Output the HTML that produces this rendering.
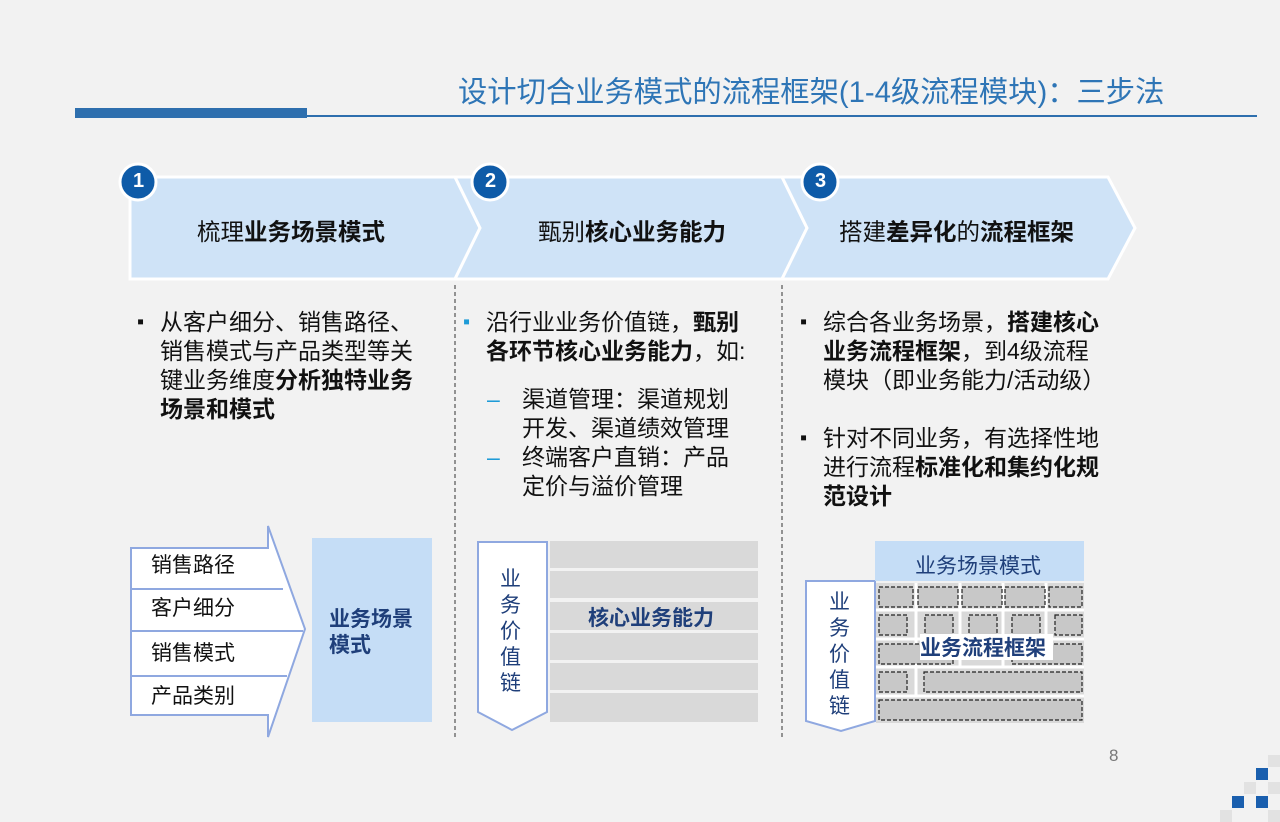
<!DOCTYPE html>
<html><head><meta charset="utf-8"><style>
body{margin:0;width:1280px;height:822px;background:#f2f2f2;position:relative;overflow:hidden;font-family:"Liberation Sans","Noto Sans CJK SC",sans-serif;color:#111}
.a{position:absolute;white-space:nowrap}
.t{font-size:23px;line-height:29px}
.t div{padding-left:23px;position:relative}
.t i{position:absolute;left:0;font-style:normal;font-size:20px}
b{font-weight:bold}
</style></head><body>
<svg width="1280" height="822" style="position:absolute;left:0;top:0">
<rect x="75" y="108" width="232" height="10" fill="#2e6fae"/>
<rect x="307" y="115" width="950" height="2" fill="#2e6fae"/>
<g fill="#cfe3f7" stroke="#fff" stroke-width="3">
<polygon points="130,177 455,177 480,228 455,279 130,279"/>
<polygon points="455,177 782,177 807,228 782,279 455,279 480,228"/>
<polygon points="782,177 1108,177 1135,228 1108,279 782,279 807,228"/>
</g>
<g fill="#0e5ba8" stroke="#fff" stroke-width="3">
<circle cx="138" cy="182" r="18"/><circle cx="490" cy="182" r="18"/><circle cx="820" cy="182" r="18"/>
</g>
<g stroke="#333" stroke-dasharray="4,3" stroke-width="1"><line x1="455" y1="285" x2="455" y2="740"/><line x1="782" y1="285" x2="782" y2="740"/></g>
<polygon points="131,548 268,548 268,526 305,629 268,737 268,715 131,715" fill="#fff" stroke="#8fa8e0" stroke-width="2"/>
<g stroke="#8fa8e0" stroke-width="2"><line x1="131" y1="589" x2="283" y2="589"/><line x1="131" y1="631" x2="303" y2="631"/><line x1="131" y1="676" x2="287" y2="676"/></g>
<rect x="312" y="538" width="120" height="184" fill="#c5ddf6"/>
<polygon points="478,542 547,542 547,712 512,730 478,712" fill="#fff" stroke="#8fa8e0" stroke-width="2"/>
<g fill="#d9d9d9"><rect x="550" y="541" width="208" height="27"/><rect x="550" y="571" width="208" height="27"/><rect x="550" y="602" width="208" height="28"/><rect x="550" y="633" width="208" height="27"/><rect x="550" y="663" width="208" height="27"/><rect x="550" y="693" width="208" height="29"/></g>
<polygon points="806,581 875,581 875,721 841,731 806,721" fill="#fff" stroke="#8fa8e0" stroke-width="2"/>
<rect x="875" y="541" width="209" height="40" fill="#c5ddf6"/>
<rect x="876" y="583" width="208" height="140" fill="#d9d9d9"/>
<g stroke="#fff" stroke-width="3"><line x1="876" y1="610" x2="1084" y2="610"/><line x1="876" y1="639" x2="1084" y2="639"/><line x1="876" y1="667" x2="1084" y2="667"/><line x1="876" y1="696" x2="1084" y2="696"/>
<line x1="916" y1="583" x2="916" y2="696"/><line x1="960" y1="583" x2="960" y2="667"/><line x1="1003" y1="583" x2="1003" y2="667"/><line x1="1046" y1="583" x2="1046" y2="639"/></g>
<g fill="#c8c8c8" stroke="#222" stroke-dasharray="4,2" stroke-width="1.2">
<rect x="879" y="587" width="34" height="20"/><rect x="918" y="587" width="40" height="20"/><rect x="962" y="587" width="40" height="20"/><rect x="1005" y="587" width="40" height="20"/><rect x="1049" y="587" width="33" height="20"/>
<rect x="879" y="615" width="28" height="20"/><rect x="925" y="615" width="28" height="20"/><rect x="969" y="615" width="28" height="20"/><rect x="1012" y="615" width="28" height="20"/><rect x="1055" y="615" width="27" height="20"/>
<rect x="879" y="644" width="74" height="20"/><rect x="1012" y="644" width="70" height="20"/>
<rect x="879" y="672" width="28" height="20"/><rect x="924" y="672" width="158" height="20"/>
<rect x="879" y="700" width="203" height="20"/></g>
<rect x="920" y="634" width="133" height="26" fill="#fff"/>
<g fill="#1a5fae"><rect x="1256" y="768" width="12" height="12"/><rect x="1232" y="796" width="12" height="12"/><rect x="1256" y="796" width="12" height="12"/></g>
<g fill="#e2e2e2"><rect x="1268" y="755" width="12" height="12"/><rect x="1244" y="782" width="12" height="12"/><rect x="1268" y="782" width="12" height="12"/><rect x="1220" y="810" width="12" height="12"/><rect x="1268" y="810" width="12" height="12"/></g>
</svg>
<div class="a" style="left:458px;top:69px;font-size:29.3px;color:#2e75b6">设计切合业务模式的流程框架(1-4级流程模块)：三步法</div>
<div class="a" style="left:130px;top:170px;font-size:20px;color:#fff;font-weight:bold;width:17px;text-align:center">1</div>
<div class="a" style="left:482px;top:170px;font-size:20px;color:#fff;font-weight:bold;width:17px;text-align:center">2</div>
<div class="a" style="left:812px;top:170px;font-size:20px;color:#fff;font-weight:bold;width:17px;text-align:center">3</div>
<div class="a" style="left:197px;top:213px;font-size:23.5px">梳理<b>业务场景模式</b></div>
<div class="a" style="left:538px;top:213px;font-size:23.5px">甄别<b>核心业务能力</b></div>
<div class="a" style="left:839px;top:213px;font-size:23.5px">搭建<b>差异化</b>的<b>流程框架</b></div>
<div class="a t" style="left:137px;top:308px"><div><i>▪</i>从客户细分、销售路径、<br>销售模式与产品类型等关<br>键业务维度<b>分析独特业务</b><br><b>场景和模式</b></div></div>
<div class="a t" style="left:463px;top:308px"><div><i style="color:#1e9bd7">▪</i>沿行业业务价值链，<b>甄别</b><br><b>各环节核心业务能力</b>，如:</div></div>
<div class="a t" style="left:487px;top:385px"><div style="padding-left:35px"><i style="color:#1e9bd7;font-size:23px">–</i>渠道管理：渠道规划<br>开发、渠道绩效管理</div><div style="padding-left:35px"><i style="color:#1e9bd7;font-size:23px">–</i>终端客户直销：产品<br>定价与溢价管理</div></div>
<div class="a t" style="left:800px;top:308px"><div><i>▪</i>综合各业务场景，<b>搭建核心</b><br><b>业务流程框架</b>，到4级流程<br>模块（即业务能力/活动级）</div></div>
<div class="a t" style="left:800px;top:424px"><div><i>▪</i>针对不同业务，有选择性地<br>进行流程<b>标准化和集约化规</b><br><b>范设计</b></div></div>
<div class="a" style="left:151px;top:552px;font-size:21px;line-height:28px">销售路径</div>
<div class="a" style="left:151px;top:595px;font-size:21px;line-height:28px">客户细分</div>
<div class="a" style="left:151px;top:640px;font-size:21px;line-height:28px">销售模式</div>
<div class="a" style="left:151px;top:683px;font-size:21px;line-height:28px">产品类别</div>
<div class="a" style="left:329px;top:607px;font-size:21px;line-height:26px;color:#1f3f7a;font-weight:bold">业务场景<br>模式</div>
<div class="a" style="left:500px;top:567px;font-size:21px;line-height:26px;width:24px;white-space:normal;color:#1f3f7a">业务价值链</div>
<div class="a" style="left:588px;top:602px;font-size:21px;color:#1f3f7a;font-weight:bold">核心业务能力</div>
<div class="a" style="left:915px;top:550px;font-size:21px;color:#1f3f7a">业务场景模式</div>
<div class="a" style="left:829px;top:590px;font-size:21px;line-height:26px;width:24px;white-space:normal;color:#1f3f7a">业务价值链</div>
<div class="a" style="left:920px;top:632px;font-size:21px;color:#1f3f7a;font-weight:bold">业务流程框架</div>
<div class="a" style="left:1109px;top:746px;font-size:17px;color:#777">8</div>
</body></html>
